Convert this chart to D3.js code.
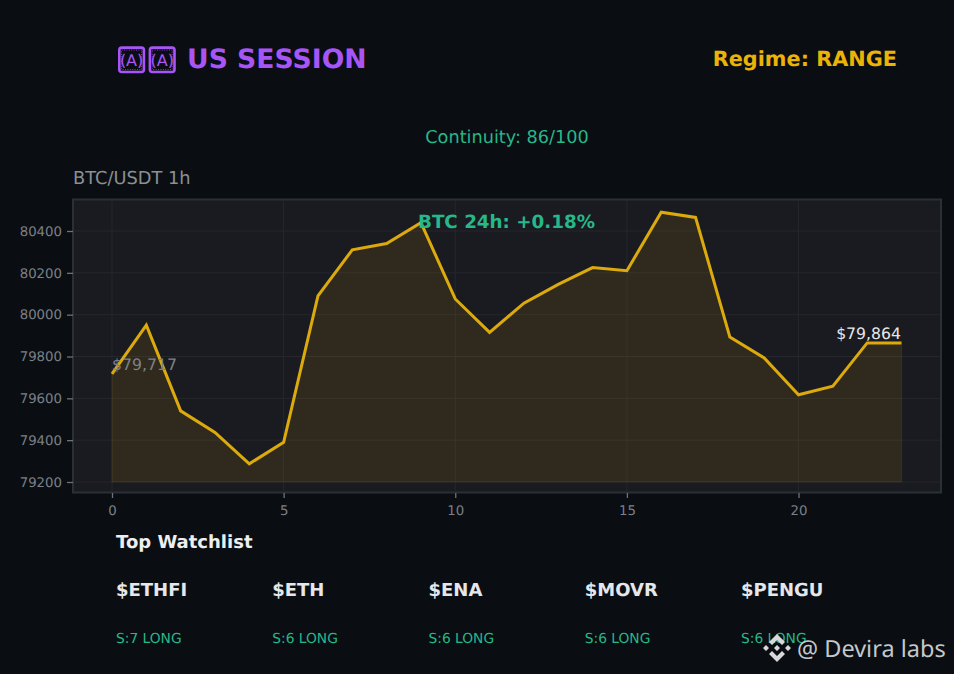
<!DOCTYPE html>
<html><head><meta charset="utf-8">
<script src="https://cdn.jsdelivr.net/npm/d3@7"></script>
<style>html,body{margin:0;padding:0;background:#0a0e12;overflow:hidden}svg{display:block}text{font-family:"DejaVu Sans",sans-serif;text-rendering:geometricPrecision}</style>
</head><body><svg id="c" width="954" height="674"></svg>
<script>
const hours=d3.range(24);
const prices=[79717,79950,79540,79437,79287,79390,80090,80310,80340,80440,80075,79915,80055,80145,80225,80210,80490,80465,79893,79793,79617,79658,79865,79864];
const xTicks=[0,5,10,15,20];
const yTicks=[79200,79400,79600,79800,80000,80200,80400];
const watchSymbols=["$ETHFI","$ETH","$ENA","$MOVR","$PENGU"];
const watchScores=["S:7 LONG","S:6 LONG","S:6 LONG","S:6 LONG","S:6 LONG"];
const svg=d3.select("#c");
const x=d3.scaleLinear().domain([0,23]).range([112,901.5]);
const y=d3.scaleLinear().domain([79200,80400]).range([482,231]);
const T=(s,px,py,size,fill,weight,anchor)=>svg.append("text").text(s).attr("x",px).attr("y",py).attr("font-size",size).attr("fill",fill).attr("font-weight",weight||"normal").attr("text-anchor",anchor||"start");
[131.6,162.2].forEach(cx=>{
 svg.append("rect").attr("x",cx-12.3).attr("y",47.6).attr("width",24.6).attr("height",24.4).attr("rx",2.5).attr("fill","none").attr("stroke","#a855f7").attr("stroke-width",2.6);
 svg.append("rect").attr("x",cx-10).attr("y",50).attr("width",20).attr("height",19.6).attr("fill","none").attr("stroke","#a855f7").attr("stroke-width",1).attr("stroke-dasharray","1 1.4").attr("opacity",.8);
 T("(A)",cx,65.5,16,"#a855f7","normal","middle");
});
T("US SESSION",187,68,26.67,"#a855f7","bold");
T("Regime: RANGE",897,66,20.8,"#eab308","bold","end");
T("Continuity: 86/100",507,143,17.7,"#26b88a","normal","middle");
T("BTC/USDT 1h",73,183.5,17.8,"#8b8f96");
svg.append("rect").attr("x",73).attr("y",199.5).attr("width",868).attr("height",293).attr("fill","#1a1b20").attr("stroke","#2b3036").attr("stroke-width",2);
const grid=svg.append("g").attr("stroke","#25272d").attr("stroke-width",1);
xTicks.forEach(t=>grid.append("line").attr("x1",x(t)).attr("x2",x(t)).attr("y1",200).attr("y2",492));
yTicks.forEach(t=>grid.append("line").attr("y1",y(t)).attr("y2",y(t)).attr("x1",74).attr("x2",940));
svg.append("path").datum(hours).attr("fill","#eab308").attr("fill-opacity",0.1).attr("stroke","#eab308").attr("stroke-opacity",0.1).attr("stroke-width",1)
 .attr("d",d3.area().x(d=>x(d)).y0(y(79200)).y1(d=>y(prices[d])));
svg.append("path").datum(hours).attr("fill","none").attr("stroke","#dcaa0c").attr("stroke-width",3).attr("stroke-linejoin","miter")
 .attr("d",d3.line().x(d=>x(d)).y(d=>y(prices[d])));
const xa=svg.append("g").attr("transform","translate(0,493)").call(d3.axisBottom(x).tickValues(xTicks).tickSize(5).tickPadding(8));
const ya=svg.append("g").attr("transform","translate(73,0)").call(d3.axisLeft(y).tickValues(yTicks).tickFormat(d3.format("d")).tickSize(6).tickPadding(5));
[xa,ya].forEach(a=>{a.select(".domain").remove();a.selectAll("line").attr("stroke","#6b7280").attr("stroke-width",1.3);a.selectAll("text").attr("fill","#7b8088").attr("font-size",13.3).attr("font-family","DejaVu Sans");});
T("$79,717",112,370,15.7,"#7d8188");
T("$79,864",901,339,15.7,"#e5e7eb","normal","end");
T("BTC 24h: +0.18%",506.5,228.3,18.3,"#26b88a","bold","middle");
T("Top Watchlist",116,548.3,18,"#eceef0","bold");
watchSymbols.forEach((s,i)=>{
 const px=116+i*156.25;
 T(s,px,596,18,"#e5e7eb","bold");
 T(watchScores[i],px,643,13.8,"#26b88a");
});
svg.append("path").attr("fill","#d8d8d8").attr("transform","translate(777,648)")
 .attr("d","M0,-14 L8,-6 L5,-3 L0,-8 L-5,-3 L-8,-6Z M0,14 L8,6 L5,3 L0,8 L-5,3 L-8,6Z M-14,0 L-11,-3 L-8,0 L-11,3Z M14,0 L11,-3 L8,0 L11,3Z M0,-3 L3,0 L0,3 L-3,0Z");
T("@ Devira labs",797,657,23.5,"#c4c7cc").style("font-family","'Noto Sans'");
</script></body></html>
